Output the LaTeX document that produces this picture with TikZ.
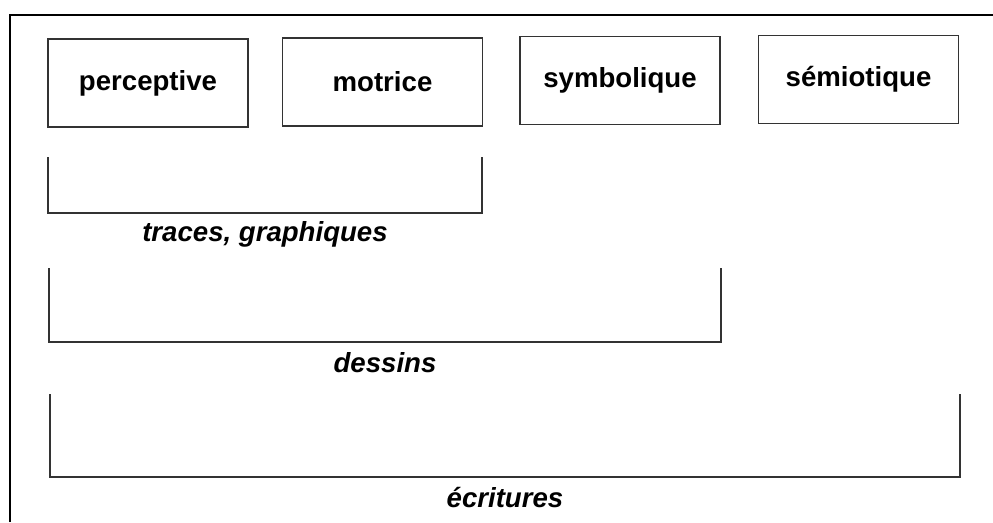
\documentclass[tikz,border=0pt]{standalone}
\usepackage{fontspec}
\setmainfont{Liberation Sans}
\newcommand\colorLines{black!80}
\newcommand\labelSize{\fontsize{27.6}{30}\selectfont}
\newcommand\labelDist{21}
\tikzset{
	levelbox/.style={draw=\colorLines, line width=1.8pt, minimum width=200pt, minimum height=88pt, inner sep=0pt, font=\labelSize\bfseries},
	rangelabel/.style={inner sep=0pt, font=\labelSize\bfseries\itshape},
}

\begin{document}
\begin{tikzpicture}[x=1pt, y=-1pt]
	\useasboundingbox (0,0) rectangle (993,522);

	% frame
	\draw[line width=2.5pt, color=black] (10,522) -- (10,15) -- (993,15);

	% the four kinds of activity
	\node[levelbox] (perceptive) at (148,83) {perceptive};
	\node[levelbox] (motrice) at (382.5,82) {motrice};
	\node[levelbox] (symbolique) at (620,80.5) {symbolique};
	\node[levelbox] (semiotique) at (858.5,79.5) {sémiotique};

	% brackets: name/left/right/top/bottom/text
	\foreach \name/\l/\r/\t/\b/\txt in {traces/48/482/157/213/{traces, graphiques},
		dessins/49/721/268/342/{dessins},
		ecritures/50/960/394/477/{écritures}}{
		\draw[color=\colorLines, line width=1.8pt] (\l,\t) -- (\l,\b) -- (\r,\b) -- (\r,\t);
		\node[rangelabel] (\name) at ({(\l+\r)/2},\b+\labelDist) {\txt};
	}
\end{tikzpicture}
\end{document}
